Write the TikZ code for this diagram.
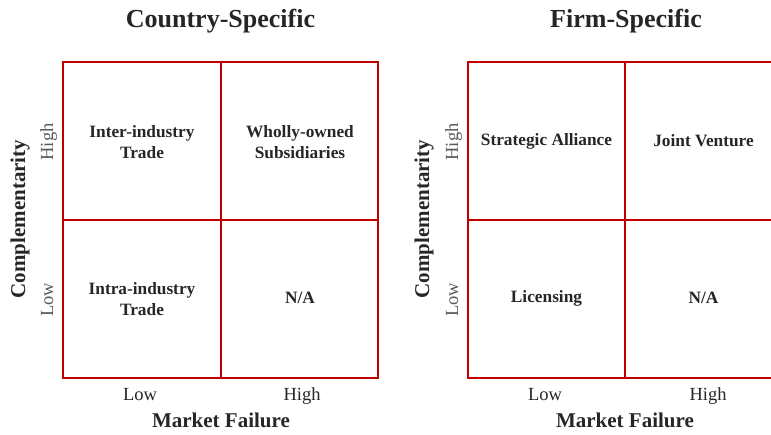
\documentclass[tikz,border=0pt]{standalone}
\usepackage{fontspec}
\setmainfont{Liberation Serif}
\usetikzlibrary{positioning}

\definecolor{gridred}{HTML}{C00000}
\definecolor{ink}{HTML}{262626}
\definecolor{axisgray}{HTML}{595959}

\tikzset{
  gridline/.style={draw=gridred, line width=1.8pt},
  heading/.style={text=ink, anchor=base, font=\fontsize{26}{30}\selectfont\bfseries},
  cell/.style={text=ink, align=center, font=\fontsize{17.3}{21}\selectfont\bfseries},
  axistitle/.style={text=ink, anchor=base, font=\fontsize{21}{24}\selectfont\bfseries},
  xlevel/.style={text=ink, anchor=base, font=\fontsize{18.5}{22}\selectfont},
  ylevel/.style={text=axisgray, anchor=base, rotate=90, font=\fontsize{18.5}{22}\selectfont}
}

\begin{document}
\begin{tikzpicture}[x=1pt,y=-1pt]
\useasboundingbox (0,0) rectangle (771,435);

% Country-specific grid
\draw[gridline] (63,62) rectangle (378,378);
\draw[gridline] (221,62) -- (221,378);
\draw[gridline] (63,220) -- (378,220);

\node[heading] (csTitle) at (220.5,28) {Country-Specific};
\node[cell] (csHL) at (142,142) {Inter-industry\\Trade};
\node[cell] (csHH) at (300,142) {Wholly-owned\\Subsidiaries};
\node[cell] (csLL) at (142,299) {Intra-industry\\Trade};
\node[cell] (csLH) at (300,298) {N/A};

\node[xlevel] (csLow) at (140,401) {Low};
\node[xlevel] (csHigh) at (302,401) {High};
\node[axistitle] (csX) at (221,428) {Market Failure};
\node[ylevel] (csYHigh) at (53,142) {High};
\node[ylevel] (csYLow) at (53,300) {Low};
\node[axistitle, rotate=90] (csY) at (25,219) {Complementarity};

% Firm-specific grid
\draw[gridline] (468,62) rectangle (782,378);
\draw[gridline] (625,62) -- (625,378);
\draw[gridline] (468,220) -- (782,220);

\node[heading] (fsTitle) at (626,28) {Firm-Specific};
\node[cell] (fsHL) at (546.5,141) {Strategic Alliance};
\node[cell] (fsHH) at (703.5,141) {Joint Venture};
\node[cell] (fsLL) at (546.5,298) {Licensing};
\node[cell] (fsLH) at (703.5,298) {N/A};

\node[xlevel] (fsLow) at (545,401) {Low};
\node[xlevel] (fsHigh) at (708,401) {High};
\node[axistitle] (fsX) at (625,428) {Market Failure};
\node[ylevel] (fsYHigh) at (458,142) {High};
\node[ylevel] (fsYLow) at (458,300) {Low};
\node[axistitle, rotate=90] (fsY) at (429,219) {Complementarity};

\end{tikzpicture}
\end{document}
